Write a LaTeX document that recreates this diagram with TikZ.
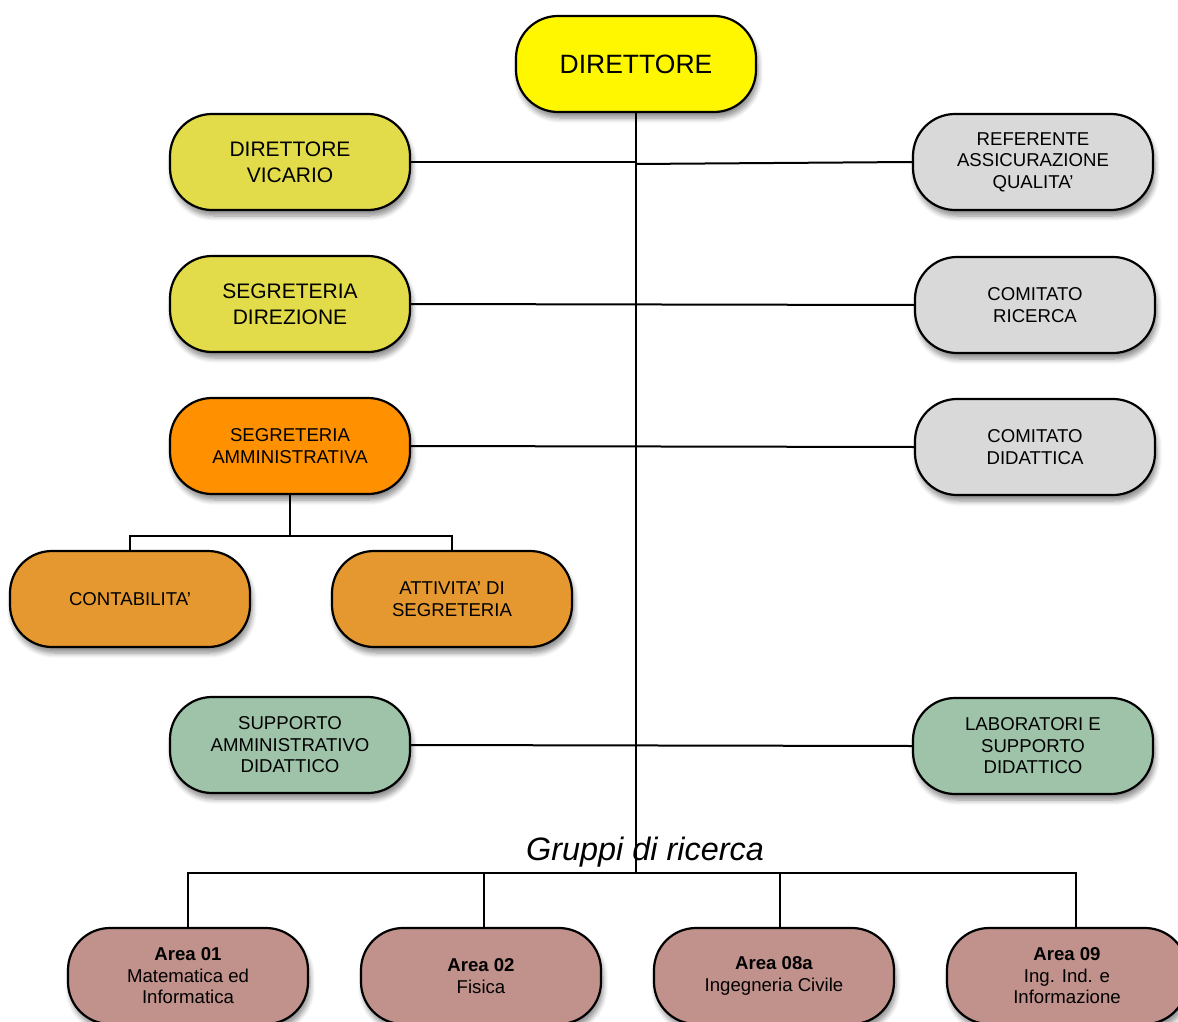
\documentclass[tikz,border=0pt]{standalone}
\usepackage{fontspec}
\setmainfont{Liberation Sans}
\usetikzlibrary{shadows.blur}
\definecolor{cDir}{HTML}{FFF700}
\definecolor{cVic}{HTML}{E2DC4A}
\definecolor{cAmm}{HTML}{FF9100}
\definecolor{cSub}{HTML}{E5982F}
\definecolor{cGray}{HTML}{D9D9D9}
\definecolor{cGreen}{HTML}{9EC3A9}
\definecolor{cPink}{HTML}{C1918C}
\tikzset{
  box/.style={draw=black, line width=2.2pt, rounded corners=42pt,
    minimum width=240pt, minimum height=96pt, align=center, inner sep=0pt,
    blur shadow={shadow xshift=2pt, shadow yshift=-6pt, shadow blur steps=6, shadow opacity=45, shadow blur radius=5pt}},
  tbig/.style={font=\fontsize{26.5}{30}\selectfont},
  tmid/.style={font=\fontsize{21}{26}\selectfont},
  tsm/.style={font=\fontsize{18.6}{21.5}\selectfont},
  tsub/.style={font=\fontsize{18.6}{22}\selectfont},
  tarea/.style={font=\fontsize{18.6}{21.5}\selectfont},
  wire/.style={line width=2pt, draw=black},
}
\begin{document}
\begin{tikzpicture}[x=1pt,y=-1pt]
\useasboundingbox (0,0) rectangle (1178,1022);
% nodes
\node[box, fill=cDir, tbig] (dir) at (636,64) {DIRETTORE};
\node[box, fill=cVic, tmid] (vic) at (290,162) {DIRETTORE\\VICARIO};
\node[box, fill=cVic, tmid] (sdir) at (290,304) {SEGRETERIA\\DIREZIONE};
\node[box, fill=cAmm, tsm] (samm) at (290,446) {SEGRETERIA\\AMMINISTRATIVA};
\node[box, fill=cSub, tsub] (cont) at (130,599) {CONTABILITA'};
\node[box, fill=cSub, tsub] (att) at (452,599) {ATTIVITA' DI\\SEGRETERIA};
\node[box, fill=cGreen, tsm] (supp) at (290,745) {SUPPORTO\\AMMINISTRATIVO\\DIDATTICO};
\node[box, fill=cGray, tsm] (ref) at (1033,162) {REFERENTE\\ASSICURAZIONE\\QUALITA'};
\node[box, fill=cGray, tsm] (cric) at (1035,305) {COMITATO\\RICERCA};
\node[box, fill=cGray, tsm] (cdid) at (1035,447) {COMITATO\\DIDATTICA};
\node[box, fill=cGreen, tsm] (lab) at (1033,746) {LABORATORI E\\SUPPORTO\\DIDATTICO};
\node[box, fill=cPink, tarea] (a01) at (188,976) {\textbf{Area 01}\\Matematica ed\\Informatica};
\node[box, fill=cPink, tarea] (a02) at (481,976) {\textbf{Area 02}\\Fisica};
\node[box, fill=cPink, tarea] (a08) at (774,976) {\textbf{Area 08a}\\Ingegneria Civile};
\node[box, fill=cPink, tarea] (a09) at (1067,976) {\textbf{Area 09}\\Ing. Ind. e\\Informazione};
\node[font=\fontsize{32.4}{35}\itshape, inner sep=0pt] (grp) at (645,852) {Gruppi di ricerca};
% junction coordinates
\coordinate (bus) at (636,873);
\coordinate (jv) at (636,162);
\coordinate (jr) at (636,164);
\coordinate (sub) at (290,536);
\coordinate (d02) at ([xshift=3pt]a02.north);
\coordinate (d08) at ([xshift=6pt]a08.north);
\coordinate (d09) at ([xshift=9pt]a09.north);
% connectors
\draw[wire] (dir.south) -- (bus);
\draw[wire] (vic.east) -- (jv);
\draw[wire] (jr) -- (ref.west);
\draw[wire] (sdir.east) -- (cric.west);
\draw[wire] (samm.east) -- (cdid.west);
\draw[wire] (supp.east) -- (lab.west);
\draw[wire] (samm.south) -- (sub);
\draw[wire] (cont.north) |- (sub) -| (att.north);
\draw[wire] (a01.north) |- (bus) -| (d09);
\draw[wire] (d02) -- (d02 |- bus);
\draw[wire] (d08) -- (d08 |- bus);
\end{tikzpicture}
\end{document}
